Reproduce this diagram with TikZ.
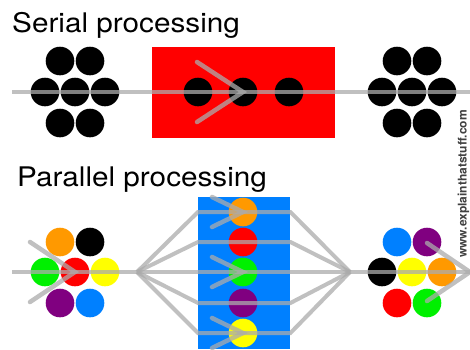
\documentclass[tikz,border=0pt]{standalone}
\usepackage{fontspec}
\setmainfont{TeX Gyre Heros}
\definecolor{boxred}{RGB}{255,0,0}
\definecolor{boxblue}{RGB}{0,128,255}
\definecolor{ballorange}{RGB}{255,153,0}
\definecolor{ballgreen}{RGB}{0,240,0}
\definecolor{ballpurple}{RGB}{128,0,128}
\definecolor{ballyellow}{RGB}{255,255,0}
\definecolor{wiregray}{RGB}{171,171,171}
\tikzset{
  ball/.style={circle, fill=#1, inner sep=0pt, minimum size=28.6pt},
  ball/.default=black,
  wire/.style={draw=wiregray, line width=4pt, opacity=0.75},
  chev/.style={draw=wiregray, line width=4.5pt, opacity=0.75, line cap=round},
  heading/.style={anchor=base west, inner sep=0pt, xscale=1.1, font=\fontsize{27}{27}\selectfont}
}

\begin{document}
\begin{tikzpicture}[x=1pt,y=-1pt]
\fill[white] (0,0) rectangle (470,349);
\useasboundingbox (0,0) rectangle (470,349);

\node[heading] (sertitle) at (12,32) {Serial processing};
\node[fill=boxred, inner sep=0pt, minimum width=183pt, minimum height=91pt, anchor=north west] (serbox) at (152,47) {};
\node[ball] (sl1) at (60,61) {};
\node[ball] (sl2) at (90,61) {};
\node[ball] (sl3) at (45,92) {};
\node[ball] (sl4) at (75,92) {};
\node[ball] (sl5) at (105,92) {};
\node[ball] (sl6) at (60,123) {};
\node[ball] (sl7) at (90,123) {};
\node[ball] (sm1) at (198,92) {};
\node[ball] (sm2) at (243,92) {};
\node[ball] (sm3) at (289,92) {};
\node[ball] (sr1) at (397,61) {};
\node[ball] (sr2) at (427,61) {};
\node[ball] (sr3) at (382,92) {};
\node[ball] (sr4) at (412,92) {};
\node[ball] (sr5) at (442,92) {};
\node[ball] (sr6) at (397,123) {};
\node[ball] (sr7) at (427,123) {};
\coordinate (serin) at (12,92);
\coordinate (serout) at (470,92);
\draw[wire] (serin) -- (serout);
\draw[chev] (sm2.center) +(-46,-30) -- (sm2.center) -- +(-46,30);

\node[heading] (partitle) at (17,186) {Parallel processing};
\node[fill=boxblue, inner sep=0pt, minimum width=92pt, minimum height=152pt, anchor=north west] (parbox) at (198,197) {};
\node[ball=ballorange] (pl1) at (60,242) {};
\node[ball] (pl2) at (90,242) {};
\node[ball=ballgreen] (pl3) at (45,272) {};
\node[ball=boxred] (pl4) at (75,272) {};
\node[ball=ballyellow] (pl5) at (105,272) {};
\node[ball=ballpurple] (pl6) at (60,303) {};
\node[ball=boxblue] (pl7) at (90,303) {};
\node[ball=ballorange] (po1) at (243,212) {};
\node[ball=boxred] (po2) at (243,242) {};
\node[ball=ballgreen] (po3) at (243,272) {};
\node[ball=ballpurple] (po4) at (243,303) {};
\node[ball=ballyellow] (po5) at (243,333) {};
\node[ball=boxblue] (pr1) at (397,242) {};
\node[ball=ballpurple] (pr2) at (427,242) {};
\node[ball] (pr3) at (382,272) {};
\node[ball=ballyellow] (pr4) at (412,272) {};
\node[ball=ballorange] (pr5) at (442,272) {};
\node[ball=boxred] (pr6) at (397,303) {};
\node[ball=ballgreen] (pr7) at (427,303) {};
\coordinate (parin) at (12,272);
\coordinate (parout) at (470,272);
\coordinate (fanin) at (137,272);
\coordinate (fanout) at (350,272);
\draw[wire] (parin) -- (parout);
\foreach \b in {po1,po2,po4,po5}
  \draw[wire] (fanin) -- (parbox.west |- \b) -- (parbox.east |- \b) -- (fanout);
\draw[chev] (pl4.center) +(-45,-30) -- (pl4.center) -- +(-45,30);
\foreach \b in {po1,po3,po5}
  \draw[chev] (\b.center) +(-31,-15) -- (\b.center) -- +(-31,15);
\draw[chev] (parout) +(-43,-29) -- (parout) -- +(-43,29);

\node[rotate=90, anchor=south, inner sep=0.5pt, text=black!75, font=\bfseries\fontsize{12}{12}\selectfont] (site) at (470,184) {www.explainthatstuff.com};
\end{tikzpicture}
\end{document}
